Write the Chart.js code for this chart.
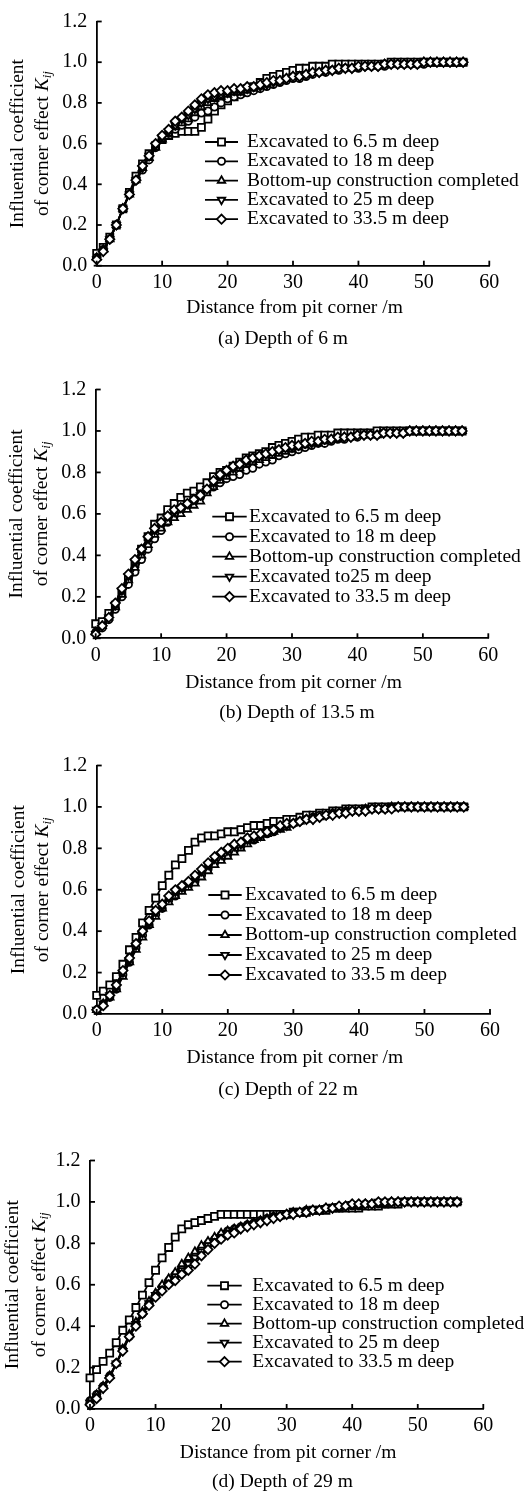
<!DOCTYPE html>
<html>
<head>
<meta charset="utf-8">
<title>Corner effect coefficient</title>
<script src="https://cdn.jsdelivr.net/npm/chart.js"></script>
<style>
  body { margin: 0; background: #fff; }
  #page { position: relative; width: 529px; height: 1491px; overflow: hidden; background: #fff; }
  #page canvas { position: absolute; left: 0; }
</style>
</head>
<body>
<div id="page"></div>
<script>
// Data: K_ij against distance from the pit corner, one value per metre

const DISTANCE = [0,1,2,3,4,5,6,7,8,9,10,11,12,13,14,15,16,17,18,19,20,21,22,23,24,25,26,27,28,29,
  30,31,32,33,34,35,36,37,38,39,40,41,42,43,44,45,46,47,48,49,50,51,52,53,54,55,56];

const X_TICKS = [0, 10, 20, 30, 40, 50, 60];
const Y_TICKS = [0.0, 0.2, 0.4, 0.6, 0.8, 1.0, 1.2];

const LABELS = ['Excavated to 6.5 m deep', 'Excavated to 18 m deep', 'Bottom-up construction completed',
  'Excavated to 25 m deep', 'Excavated to 33.5 m deep'];
const LABELS_B = ['Excavated to 6.5 m deep', 'Excavated to 18 m deep', 'Bottom-up construction completed',
  'Excavated to25 m deep', 'Excavated to 33.5 m deep'];

// (a) depth of 6 m
const A_65 = [.06,.09,.14,.20,.28,.36,.44,.50,.55,.59, .62,.64,.65,.66,.66,.66,.68,.72,.76,.79,
  .81,.83,.85,.87,.88,.90,.92,.93,.94,.95, .96,.97,.97,.98,.98,.98,.99,.99,.99,.99,
  .99,.99,.99,.99,.99,1,1,1,1,1, 1,1,1,1,1,1,1];
const A_18 = [.04,.08,.13,.20,.28,.35,.42,.47,.52,.58, .62,.65,.67,.69,.71,.73,.75,.76,.78,.80,
  .82,.83,.84,.85,.86,.87,.88,.89,.90,.91, .92,.92,.93,.94,.95,.95,.96,.96,.97,.97,
  .97,.98,.98,.98,.98,.99,.99,.99,.99,.99, .99,1,1,1,1,1,1];
const A_BU = [.04,.08,.13,.20,.28,.35,.42,.48,.53,.58, .62,.65,.68,.70,.72,.75,.78,.80,.82,.83,
  .84,.85,.85,.86,.87,.88,.89,.90,.91,.92, .93,.93,.94,.95,.95,.96,.96,.97,.97,.97,
  .98,.98,.98,.98,.99,.99,.99,.99,.99,.99, 1,1,1,1,1,1,1];
const A_25 = [.03,.07,.13,.20,.28,.35,.42,.48,.54,.59, .63,.66,.69,.72,.74,.77,.80,.82,.83,.84,
  .85,.86,.86,.87,.88,.88,.89,.90,.91,.92, .93,.93,.94,.95,.95,.96,.96,.97,.97,.97,
  .98,.98,.98,.98,.99,.99,.99,.99,.99,.99, 1,1,1,1,1,1,1];
const A_335 = [.03,.07,.13,.20,.28,.35,.42,.49,.54,.60, .64,.67,.71,.73,.76,.79,.82,.84,.85,.86,
  .86,.87,.87,.88,.88,.89,.90,.91,.91,.92, .93,.93,.94,.95,.95,.96,.96,.97,.97,.97,
  .98,.98,.98,.98,.99,.99,.99,.99,.99,.99, 1,1,1,1,1,1,1];

// (b) depth of 13.5 m
const B_65 = [.07,.08,.12,.16,.22,.29,.36,.43,.49,.55, .58,.62,.65,.68,.70,.71,.73,.75,.78,.80,
  .81,.83,.85,.87,.88,.89,.90,.92,.93,.94, .95,.96,.97,.97,.98,.98,.98,.99,.99,.99,
  .99,.99,.99,1,1,1,1,1,1,1, 1,1,1,1,1,1,1];
const B_18 = [.03,.05,.09,.14,.20,.26,.32,.38,.43,.48, .52,.56,.59,.62,.64,.66,.68,.71,.73,.75,
  .77,.78,.79,.81,.82,.84,.85,.86,.88,.89, .90,.91,.92,.93,.94,.94,.95,.96,.96,.97,
  .97,.98,.98,.98,.99,.99,.99,.99,1,1, 1,1,1,1,1,1,1];
const B_BU = [.03,.06,.10,.15,.21,.28,.34,.40,.45,.50, .53,.56,.58,.60,.62,.64,.66,.70,.73,.76,
  .78,.80,.82,.84,.85,.86,.87,.88,.89,.90, .91,.92,.93,.94,.94,.95,.96,.96,.97,.97,
  .98,.98,.98,.98,.99,.99,.99,.99,1,1, 1,1,1,1,1,1,1];
const B_25 = [.02,.06,.10,.16,.23,.30,.37,.42,.48,.52, .56,.59,.61,.63,.65,.67,.69,.72,.75,.78,
  .80,.82,.84,.85,.87,.88,.89,.90,.91,.92, .92,.93,.94,.94,.95,.96,.96,.97,.97,.97,
  .98,.98,.98,.98,.99,.99,.99,.99,1,1, 1,1,1,1,1,1,1];
const B_335 = [.02,.06,.10,.17,.24,.31,.38,.43,.49,.53, .56,.59,.62,.63,.65,.67,.69,.72,.76,.79,
  .81,.83,.84,.86,.87,.88,.89,.90,.91,.92, .93,.93,.94,.95,.95,.96,.96,.97,.97,.97,
  .98,.98,.98,.98,.99,.99,.99,.99,1,1, 1,1,1,1,1,1,1];

// (c) depth of 22 m
const C_65 = [.09,.11,.14,.18,.24,.31,.37,.44,.50,.56, .62,.67,.72,.75,.79,.83,.85,.86,.86,.87,
  .88,.88,.89,.90,.91,.91,.92,.93,.93,.94, .94,.95,.96,.96,.97,.97,.98,.98,.99,.99,
  .99,.99,1,1,1,1,1,1,1,1, 1,1,1,1,1,1,1];
const C_18 = [.02,.05,.08,.12,.19,.25,.32,.38,.43,.48, .51,.55,.57,.60,.62,.64,.67,.70,.73,.75,
  .77,.79,.81,.83,.84,.86,.87,.88,.90,.91, .92,.93,.94,.95,.96,.96,.97,.97,.98,.98,
  .98,.99,.99,.99,.99,1,1,1,1,1, 1,1,1,1,1,1,1];
const C_BU = [.02,.05,.08,.12,.18,.25,.31,.37,.43,.47, .51,.54,.57,.59,.61,.63,.66,.69,.72,.74,
  .76,.78,.80,.82,.84,.85,.87,.88,.89,.90, .92,.93,.94,.95,.95,.96,.97,.97,.98,.98,
  .98,.99,.99,.99,.99,1,1,1,1,1, 1,1,1,1,1,1,1];
const C_25 = [.02,.05,.09,.13,.20,.26,.33,.39,.44,.49, .52,.56,.59,.61,.63,.66,.69,.72,.75,.77,
  .79,.81,.82,.84,.85,.86,.88,.89,.90,.91, .92,.93,.94,.94,.95,.96,.96,.97,.97,.98,
  .98,.98,.99,.99,.99,1,1,1,1,1, 1,1,1,1,1,1,1];
const C_335 = [.02,.04,.09,.14,.21,.27,.34,.40,.45,.50, .53,.57,.60,.62,.64,.67,.70,.73,.76,.78,
  .80,.82,.83,.85,.86,.87,.88,.89,.91,.92, .92,.93,.94,.94,.95,.96,.96,.97,.97,.98,
  .98,.98,.99,.99,.99,.99,1,1,1,1, 1,1,1,1,1,1,1];

// (d) depth of 29 m
const D_65 = [.15,.19,.23,.27,.32,.38,.43,.49,.55,.61, .67,.73,.78,.83,.87,.89,.90,.91,.92,.93,
  .94,.94,.94,.94,.94,.94,.94,.94,.94,.94, .94,.95,.95,.95,.96,.96,.96,.97,.97,.97,
  .97,.97,.98,.98,.98,.99,.99,.99,1,1, 1,1,1,1,1,1,1];
const D_18 = [.04,.07,.11,.16,.22,.29,.35,.41,.46,.51, .55,.59,.62,.65,.68,.71,.74,.77,.80,.82,
  .84,.86,.87,.88,.89,.90,.91,.92,.93,.93, .94,.95,.95,.96,.96,.96,.97,.97,.97,.98,
  .98,.98,.99,.99,.99,.99,1,1,1,1, 1,1,1,1,1,1,1];
const D_BU = [.04,.07,.11,.16,.22,.29,.36,.42,.47,.52, .56,.60,.63,.66,.70,.73,.76,.79,.81,.83,
  .85,.86,.87,.88,.89,.90,.91,.92,.93,.93, .94,.95,.95,.96,.96,.96,.97,.97,.97,.98,
  .98,.98,.99,.99,.99,.99,1,1,1,1, 1,1,1,1,1,1,1];
const D_25 = [.03,.06,.10,.15,.22,.28,.35,.41,.46,.51, .55,.58,.61,.64,.67,.70,.73,.76,.79,.81,
  .83,.85,.86,.87,.88,.89,.90,.91,.92,.93, .94,.94,.95,.95,.96,.96,.97,.97,.98,.98,
  .99,.99,.99,.99,1,1,1,1,1,1, 1,1,1,1,1,1,1];
const D_335 = [.02,.05,.10,.15,.22,.28,.35,.40,.46,.50, .54,.57,.60,.62,.65,.67,.70,.74,.77,.80,
  .82,.84,.85,.87,.88,.89,.90,.91,.92,.93, .94,.94,.95,.95,.96,.96,.97,.97,.98,.98,
  .99,.99,.99,.99,1,1,1,1,1,1, 1,1,1,1,1,1,1];

const FONT_FAMILY = '"Liberation Serif", "Times New Roman", serif';
const TEXT_FONT = '19.5px ' + FONT_FAMILY;
const PAGE_W = 529, PAGE_H = 1491;
const STROKE = 1.8;

const MARKERS = [
  { pointStyle: 'rect', radius: 5, rotation: 0 },
  { pointStyle: 'circle', radius: 3.6, rotation: 0 },
  { pointStyle: 'triangle', radius: 4.3, rotation: 0 },
  { pointStyle: 'triangle', radius: 4.3, rotation: 180 },
  { pointStyle: 'rectRot', radius: 4.6, rotation: 0 }
];
const DRAW_ORDER = [5, 4, 3, 2, 1];

const PANELS = [
  { caption: '(a) Depth of 6 m', left: 96.7, right: 489.3, top: 15.7, bottom: 265.7,
    titleY: 308, capX: 283, capY: 339, yTitleX: [18, 43],
    legX: 205, legY: 142, legGap: 19.3, legLine: 33, legText: 247,
    labels: LABELS, series: [A_65, A_18, A_BU, A_25, A_335] },
  { caption: '(b) Depth of 13.5 m', left: 95.7, right: 488.3, top: 388.3, bottom: 638.3,
    titleY: 683, capX: 297, capY: 713, yTitleX: [17, 42],
    legX: 212.3, legY: 516.7, legGap: 20, legLine: 34.4, legText: 249,
    labels: LABELS_B, series: [B_65, B_18, B_BU, B_25, B_335] },
  { caption: '(c) Depth of 22 m', left: 96.7, right: 490, top: 764, bottom: 1014,
    titleY: 1058, capX: 288, capY: 1090, yTitleX: [19, 43],
    legX: 208.3, legY: 895, legGap: 20, legLine: 33.4, legText: 245,
    labels: LABELS, series: [C_65, C_18, C_BU, C_25, C_335] },
  { caption: '(d) Depth of 29 m', left: 90, right: 483.3, top: 1159, bottom: 1409,
    titleY: 1453, capX: 282.5, capY: 1482, yTitleX: [12.5, 40],
    legX: 207.3, legY: 1285.7, legGap: 19, legLine: 34.4, legText: 252.3,
    labels: LABELS, series: [D_65, D_18, D_BU, D_25, D_335] }
];

Chart.defaults.font.family = FONT_FAMILY;
Chart.defaults.color = '#000';

// inward ticks, axis titles, caption and the boxed-in legend
const panelDecor = {
  id: 'panelDecor',
  afterDraw: function(chart, args, opts) {
    const ctx = chart.ctx;
    const area = chart.chartArea;
    const xs = chart.scales.x, ys = chart.scales.y;
    const p = opts.panel, dy = opts.offset;

    ctx.save();
    ctx.strokeStyle = '#000';
    ctx.lineWidth = STROKE;
    X_TICKS.forEach(function(v) {
      const px = xs.getPixelForValue(v);
      ctx.beginPath();
      ctx.moveTo(px, area.bottom);
      ctx.lineTo(px, area.bottom - 5);
      ctx.stroke();
    });
    Y_TICKS.forEach(function(v) {
      const py = ys.getPixelForValue(v);
      ctx.beginPath();
      ctx.moveTo(area.left, py);
      ctx.lineTo(area.left + 5, py);
      ctx.stroke();
    });
    // x axis runs a little past the y axis, as in the figure
    ctx.beginPath();
    ctx.moveTo(area.left - 3, area.bottom);
    ctx.lineTo(area.left, area.bottom);
    ctx.stroke();

    ctx.fillStyle = '#000';
    ctx.font = TEXT_FONT;
    ctx.textAlign = 'center';
    ctx.textBaseline = 'middle';
    ctx.fillText('Distance from pit corner /m', (area.left + area.right) / 2 + 1.5, p.titleY - dy);
    ctx.fillText(p.caption, p.capX, p.capY - dy);

    // y title, two rotated lines, K_ij in italics
    const cy = (area.top + area.bottom) / 2;
    ctx.save();
    ctx.translate(p.yTitleX[0], cy);
    ctx.rotate(-Math.PI / 2);
    ctx.fillText('Influential coefficient', 0, 0);
    ctx.restore();

    const plain = 'of corner effect ';
    const wPlain = ctx.measureText(plain).width;
    ctx.font = 'italic ' + TEXT_FONT;
    const wK = ctx.measureText('K').width;
    ctx.font = 'italic 13px ' + FONT_FAMILY;
    const wSub = ctx.measureText('ij').width;
    const x0 = -(wPlain + wK + wSub) / 2;
    ctx.save();
    ctx.translate(p.yTitleX[1], cy);
    ctx.rotate(-Math.PI / 2);
    ctx.textAlign = 'left';
    ctx.font = TEXT_FONT;
    ctx.fillText(plain, x0, 0);
    ctx.font = 'italic ' + TEXT_FONT;
    ctx.fillText('K', x0 + wPlain, 0);
    ctx.font = 'italic 13px ' + FONT_FAMILY;
    ctx.fillText('ij', x0 + wPlain + wK, 5);
    ctx.restore();

    // legend
    ctx.font = TEXT_FONT;
    ctx.textAlign = 'left';
    chart.data.datasets.forEach(function(ds, i) {
      const ly = p.legY - dy + i * p.legGap;
      ctx.strokeStyle = '#000';
      ctx.lineWidth = STROKE;
      ctx.beginPath();
      ctx.moveTo(p.legX, ly);
      ctx.lineTo(p.legX + p.legLine, ly);
      ctx.stroke();
      ctx.fillStyle = '#fff';
      Chart.helpers.drawPoint(ctx, {
        pointStyle: ds.pointStyle, rotation: ds.pointRotation,
        radius: ds.pointRadius, borderWidth: STROKE
      }, p.legX + p.legLine / 2, ly);
      ctx.fillStyle = '#000';
      ctx.fillText(ds.label, p.legText, ly);
    });
    ctx.restore();
  }
};

const page = document.getElementById('page');

PANELS.forEach(function(p) {
  const canvasTop = Math.max(0, Math.floor(p.top - 20));
  const canvasH = Math.min(372, PAGE_H - canvasTop);
  const xAxisH = 30;
  const canvas = document.createElement('canvas');
  canvas.width = PAGE_W;
  canvas.height = canvasH;
  canvas.style.top = canvasTop + 'px';
  canvas.style.width = PAGE_W + 'px';
  canvas.style.height = canvasH + 'px';
  page.appendChild(canvas);

  const datasets = p.series.map(function(values, i) {
    return {
      label: p.labels[i],
      data: values.map(function(v, j) { return { x: DISTANCE[j], y: v }; }),
      borderColor: '#000',
      borderWidth: STROKE,
      backgroundColor: '#fff',
      pointStyle: MARKERS[i].pointStyle,
      pointRadius: MARKERS[i].radius,
      pointRotation: MARKERS[i].rotation,
      pointBackgroundColor: '#fff',
      pointBorderColor: '#000',
      pointBorderWidth: STROKE,
      tension: 0,
      clip: false,
      order: DRAW_ORDER[i]
    };
  });

  new Chart(canvas, {
    type: 'line',
    data: { datasets: datasets },
    options: {
      responsive: false,
      animation: false,
      events: [],
      devicePixelRatio: 1,
      layout: {
        padding: {
          top: p.top - canvasTop,
          left: 0,
          right: PAGE_W - p.right,
          bottom: canvasH - (p.bottom - canvasTop) - xAxisH
        }
      },
      plugins: {
        legend: { display: false },
        tooltip: { enabled: false },
        panelDecor: { panel: p, offset: canvasTop }
      },
      scales: {
        x: {
          type: 'linear',
          min: 0,
          max: 60,
          afterFit: function(s) { s.height = xAxisH; },
          grid: { display: false, drawTicks: false },
          border: { display: true, color: '#000', width: STROKE },
          ticks: {
            stepSize: 10,
            maxRotation: 0,
            padding: 5,
            font: { size: 20 },
            color: '#000'
          }
        },
        y: {
          type: 'linear',
          min: 0,
          max: 1.2,
          afterFit: function(s) { s.width = p.left; },
          grid: { display: false, drawTicks: false },
          border: { display: true, color: '#000', width: STROKE },
          ticks: {
            stepSize: 0.2,
            padding: 9.5,
            font: { size: 20 },
            color: '#000',
            callback: function(v) { return v.toFixed(1); }
          }
        }
      }
    },
    plugins: [panelDecor]
  });
});
</script>
</body>
</html>
